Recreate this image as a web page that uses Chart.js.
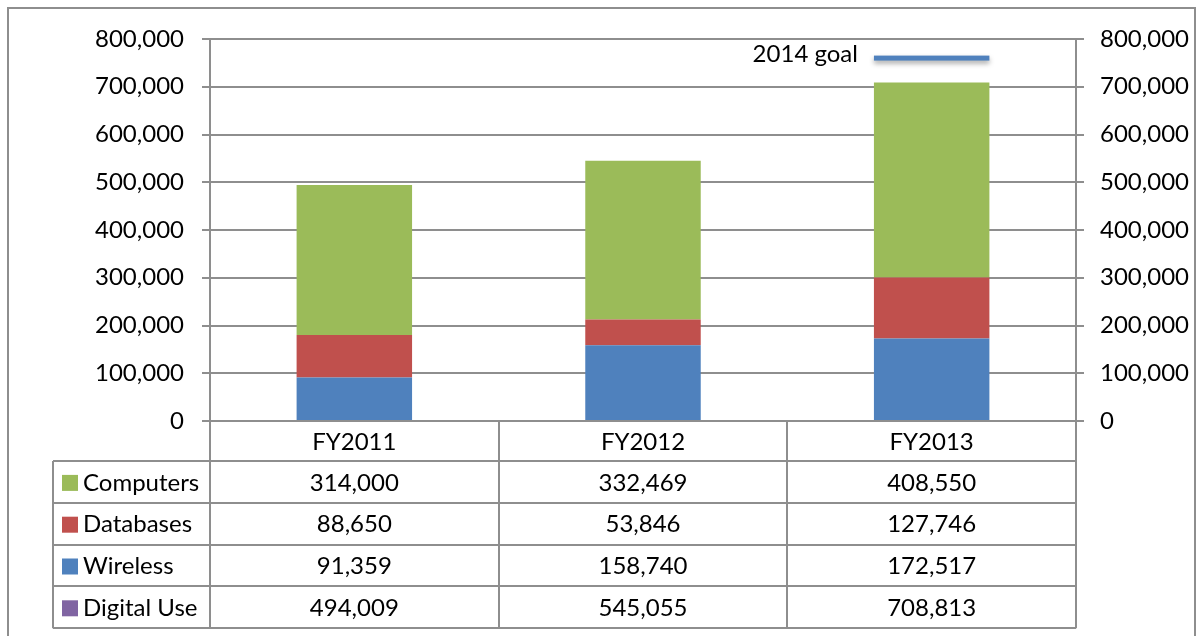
<!DOCTYPE html>
<html>
<head>
<meta charset="utf-8">
<script src="https://cdn.jsdelivr.net/npm/chart.js@4"></script>
<style>
  html, body { margin: 0; padding: 0; background: #fff; }
  #wrap { width: 1199px; height: 636px; }
</style>
</head>
<body>
<div id="wrap"><canvas id="chart" width="1199" height="636"></canvas></div>
<script>
const categories = ['FY2011', 'FY2012', 'FY2013']
const computers = [314000, 332469, 408550]
const databases = [88650, 53846, 127746]
const wireless = [91359, 158740, 172517]
const digitalUse = [494009, 545055, 708813]
const goal2014 = [760000]
const yMax = 800000
const yStep = 100000

const FONT = 'Lato'
const SIZE = 24
const LINE = '#8e8e8e'
const fmt = v => v.toLocaleString('en-US')

Chart.defaults.font.family = FONT
Chart.defaults.font.size = SIZE
Chart.defaults.color = '#000'

const tableRows = [
  { label: 'Computers', color: '#9BBB59', values: computers },
  { label: 'Databases', color: '#C0504D', values: databases },
  { label: 'Wireless', color: '#4F81BD', values: wireless },
  { label: 'Digital Use', color: '#8064A2', values: digitalUse }
]

const tablePlugin = {
  id: 'tablePlugin',
  afterDraw (chart) {
    const { ctx, chartArea, scales: { x, y } } = chart
    const colW = (chartArea.right - chartArea.left) / categories.length
    const top = chartArea.bottom
    const headH = 40
    const rowH = 41.8
    const legLeft = 53
    const bottom = top + headH + rowH * tableRows.length

    ctx.save()
    // goal marker
    const meta = chart.getDatasetMeta(2)
    const bar = meta.data[categories.length - 1]
    const gy = y.getPixelForValue(goal2014[0])
    ctx.save()
    ctx.shadowColor = 'rgba(0,0,0,0.35)'
    ctx.shadowBlur = 5
    ctx.shadowOffsetY = 3
    ctx.fillStyle = '#4F81BD'
    ctx.fillRect(bar.x - bar.width / 2, gy - 2.5, bar.width, 5)
    ctx.restore()
    ctx.font = `${SIZE}px ${FONT}`
    ctx.fillStyle = '#000'
    ctx.textAlign = 'right'
    ctx.textBaseline = 'middle'
    ctx.fillText('2014 goal', bar.x - bar.width / 2 - 16, gy - 4)

    // table lines
    ctx.strokeStyle = LINE
    ctx.lineWidth = 2
    ctx.beginPath()
    for (let i = 0; i <= categories.length; i++) {
      const lx = Math.round(chartArea.left + colW * i)
      ctx.moveTo(lx, top)
      ctx.lineTo(lx, bottom)
    }
    ctx.moveTo(legLeft, top + headH)
    ctx.lineTo(legLeft, bottom)
    for (let r = 0; r <= tableRows.length; r++) {
      const ly = Math.round(top + headH + rowH * r)
      ctx.moveTo(legLeft, ly)
      ctx.lineTo(chartArea.right, ly)
    }
    ctx.moveTo(chartArea.left, top)
    ctx.lineTo(chartArea.right, top)
    ctx.stroke()

    ctx.textAlign = 'center'
    categories.forEach((c, i) => {
      ctx.fillText(c, x.getPixelForValue(i), top + headH / 2 + 1)
    })
    tableRows.forEach((row, r) => {
      const cy = top + headH + rowH * r + rowH / 2 + 1
      ctx.fillStyle = row.color
      ctx.fillRect(legLeft + 9, cy - 8, 16, 16)
      ctx.fillStyle = '#000'
      ctx.textAlign = 'left'
      ctx.fillText(row.label, legLeft + 30, cy)
      ctx.textAlign = 'center'
      row.values.forEach((v, i) => {
        ctx.fillText(fmt(v), x.getPixelForValue(i), cy)
      })
    })

    // outer frame
    ctx.lineWidth = 2
    ctx.strokeStyle = LINE
    ctx.strokeRect(8, 8, 1187, 700)
    ctx.restore()
  }
}

const ctx = document.getElementById('chart').getContext('2d')
new Chart(ctx, {
  data: {
    labels: categories,
    datasets: [
      { type: 'bar', label: 'Wireless', data: wireless, backgroundColor: '#4F81BD', stack: 'use' },
      { type: 'bar', label: 'Databases', data: databases, backgroundColor: '#C0504D', stack: 'use' },
      { type: 'bar', label: 'Computers', data: computers, backgroundColor: '#9BBB59', stack: 'use' },
      { type: 'line', label: 'Digital Use', data: digitalUse, borderColor: 'rgba(128,100,162,0)', showLine: false, pointRadius: 0, stack: 'total' }
    ]
  },
  options: {
    responsive: false,
    animation: false,
    events: [],
    layout: { padding: { top: 39, bottom: 215, left: 0, right: 0 } },
    datasets: { bar: { barPercentage: 0.4, categoryPercentage: 1 } },
    plugins: { legend: { display: false }, tooltip: { enabled: false } },
    scales: {
      x: { display: false, stacked: true, offset: true },
      y: {
        position: 'left',
        stacked: true,
        min: 0,
        max: yMax,
        afterFit: s => { s.width = 210 },
        ticks: { stepSize: yStep, padding: 18, callback: v => fmt(v), font: { size: SIZE } },
        grid: { color: LINE, lineWidth: 2, tickLength: 8 },
        border: { color: LINE, width: 2 }
      },
      y2: {
        position: 'right',
        min: 0,
        max: yMax,
        afterFit: s => { s.width = 123 },
        ticks: { stepSize: yStep, padding: 16, callback: v => fmt(v), font: { size: SIZE } },
        grid: { color: LINE, lineWidth: 2, tickLength: 8, drawOnChartArea: false },
        border: { color: LINE, width: 2 }
      }
    }
  },
  plugins: [tablePlugin]
})
</script>
</body>
</html>
